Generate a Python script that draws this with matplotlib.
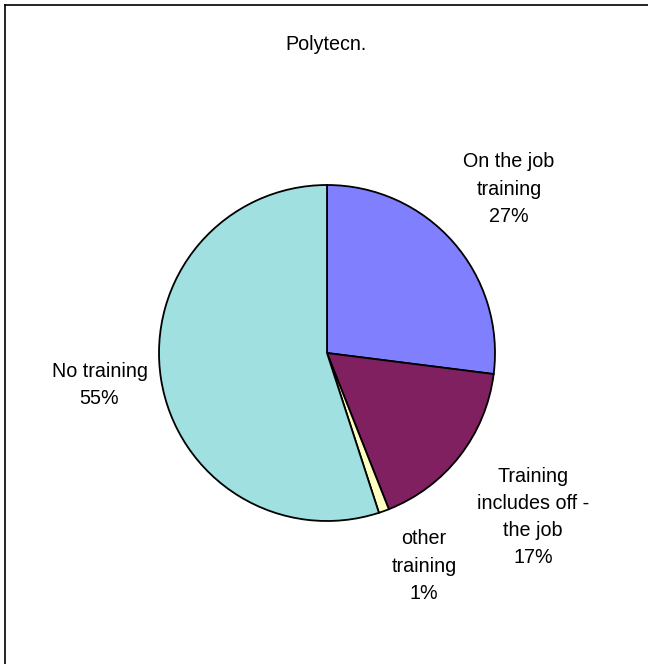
import matplotlib
matplotlib.use("Agg")
import matplotlib.pyplot as plt
from matplotlib.lines import Line2D

plt.rcParams['font.family'] = ['Liberation Sans', 'DejaVu Sans']

labels = ["On the job\ntraining", "Training\nincludes off -\nthe job", "other\ntraining", "No training"]
values = [27, 17, 1, 55]
colors = ["#8080FF", "#802060", "#FFFFC0", "#A0E0E0"]
label_pos = [(1.083, 0.976), (1.226, -0.976), (0.577, -1.268), (-1.354, -0.19)]

W, H = 648, 664
fig = plt.figure(figsize=(W / 100, H / 100), dpi=100)

# pie centre and radius in pixels
cx, cy, r = 327, 353, 168
ax = fig.add_axes([(cx - r) / W, (H - cy - r) / H, 2 * r / W, 2 * r / H])

ax.pie(values, colors=colors, startangle=90, counterclock=False,
       wedgeprops=dict(edgecolor="black", linewidth=1.3))
ax.set_xlim(-1, 1)
ax.set_ylim(-1, 1)
ax.set_aspect("equal")

for lab, v, (x, y) in zip(labels, values, label_pos):
    ax.text(x, y, f"{lab}\n{v}%", ha="center", va="center", fontsize=14.2,
            linespacing=1.55, clip_on=False)

fig.text(326 / W, 1 - 44 / H, "Polytecn.", ha="center", va="center", fontsize=14.2)

# frame on the left and top edges
fig.add_artist(Line2D([4.5 / W, 4.5 / W], [0, 1 - 4.5 / H], color="black", lw=1.2,
                      transform=fig.transFigure))
fig.add_artist(Line2D([4.5 / W, 1], [1 - 4.5 / H, 1 - 4.5 / H], color="black", lw=1.2,
                      transform=fig.transFigure))

fig.savefig("out.png", dpi=100)
